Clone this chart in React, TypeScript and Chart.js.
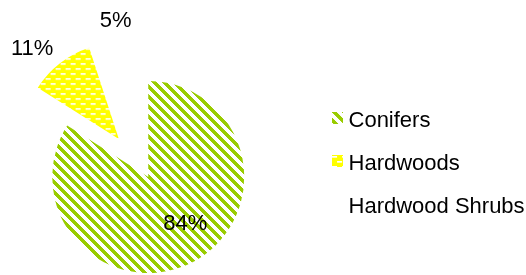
import React, { useEffect, useRef } from 'react';
import { Chart, registerables } from 'chart.js';

Chart.register(...registerables);

// ---- data ----
const CATEGORIES = ['Conifers', 'Hardwoods', 'Hardwood Shrubs'];
const VALUES = [84, 11, 5];

// ---- presentation ----
const EXPLODE = [0, 48, 0]; // px pulled out along slice bisector
const LABEL_ANGLE = [141.5, 316, 348.2]; // deg clockwise from 12 o'clock
const LABEL_RADIUS = [0.62, 1.3, 1.66]; // fraction of radius
const FONT_FAMILY = '"Liberation Sans", Arial, sans-serif';
const FONT_SIZE = 22;
const GREEN = '#99CC00';
const YELLOW = '#FFFF00';
const TILE = 10;
const STRIPE_WIDTH = 5;

function makeTile(kind: string): HTMLCanvasElement {
  const c = document.createElement('canvas');
  c.width = TILE;
  c.height = TILE;
  const g = c.getContext('2d')!;
  const h = TILE / 2;
  if (kind === 'stripe') {
    g.fillStyle = GREEN;
    for (let y = 0; y < TILE; y++) {
      for (let x = 0; x < TILE; x++) {
        if ((((x - y) % TILE) + TILE) % TILE < STRIPE_WIDTH) g.fillRect(x, y, 1, 1);
      }
    }
  } else if (kind === 'dash') {
    g.fillStyle = YELLOW;
    g.fillRect(0, 0, TILE, TILE);
    g.fillStyle = '#FFFFFF';
    g.fillRect(0, 1, h, 1);
    g.fillRect(h, 1 + h, h, 1);
    g.fillStyle = '#FFFFB0';
    g.fillRect(0, 2, h, 1);
    g.fillRect(h, 2 + h, h, 1);
  }
  return c;
}

function makeIcon(tile: HTMLCanvasElement | null): HTMLCanvasElement {
  const c = document.createElement('canvas');
  c.width = 11;
  c.height = 18;
  if (tile) {
    const g = c.getContext('2d')!;
    const p = g.createPattern(tile, 'repeat');
    if (p) {
      g.fillStyle = p;
      g.fillRect(0, 0, 11, 12);
    }
  }
  return c;
}

const explodePlugin = {
  id: 'explodeSlices',
  beforeDatasetDraw(chart: any, args: any) {
    const ctx = chart.ctx;
    args.meta.data.forEach((arc: any, i: number) => {
      const d = EXPLODE[i] || 0;
      const mid = (arc.startAngle + arc.endAngle) / 2;
      ctx.save();
      ctx.translate(Math.cos(mid) * d, Math.sin(mid) * d);
      arc.draw(ctx);
      ctx.restore();
    });
    return false;
  },
};

const labelPlugin = {
  id: 'pctLabels',
  afterDatasetsDraw(chart: any) {
    const meta = chart.getDatasetMeta(0);
    const ctx = chart.ctx;
    const total = VALUES.reduce((a, b) => a + b, 0);
    ctx.save();
    ctx.font = `${FONT_SIZE}px ${FONT_FAMILY}`;
    ctx.fillStyle = '#000000';
    ctx.textAlign = 'center';
    ctx.textBaseline = 'middle';
    meta.data.forEach((arc: any, i: number) => {
      const d = EXPLODE[i] || 0;
      const mid = (arc.startAngle + arc.endAngle) / 2;
      const cx = arc.x + Math.cos(mid) * d;
      const cy = arc.y + Math.sin(mid) * d;
      const phi = (LABEL_ANGLE[i] * Math.PI) / 180 - Math.PI / 2;
      const r = LABEL_RADIUS[i] * arc.outerRadius;
      ctx.fillText(Math.round((VALUES[i] / total) * 100) + '%', cx + Math.cos(phi) * r, cy + Math.sin(phi) * r);
    });
    ctx.restore();
  },
};

export default function App() {
  const ref = useRef<HTMLCanvasElement | null>(null);

  useEffect(() => {
    if (!ref.current) return;
    const stripeTile = makeTile('stripe');
    const dashTile = makeTile('dash');
    const ctx = ref.current.getContext('2d')!;
    const stripe = ctx.createPattern(stripeTile, 'repeat');
    const dash = ctx.createPattern(dashTile, 'repeat');
    const fills = [stripe, dash, 'rgba(0,0,0,0)'];
    const icons = [makeIcon(stripeTile), makeIcon(dashTile), makeIcon(null)];

    const chart = new Chart(ref.current, {
      type: 'pie',
      data: {
        labels: CATEGORIES,
        datasets: [
          {
            data: VALUES,
            backgroundColor: fills as any,
            hoverBackgroundColor: fills as any,
            borderWidth: 0,
            radius: 96,
            clip: false,
          } as any,
        ],
      },
      options: {
        responsive: false,
        devicePixelRatio: 1,
        animation: false,
        events: [],
        layout: { padding: { left: 0, right: 0, top: 89, bottom: 10 } },
        plugins: {
          tooltip: { enabled: false },
          legend: {
            display: true,
            position: 'right',
            align: 'start',
            maxWidth: 209.5,
            labels: {
              usePointStyle: true,
              boxWidth: 0.01,
              padding: 21,
              color: '#000000',
              font: { family: FONT_FAMILY, size: FONT_SIZE },
              generateLabels: () =>
                CATEGORIES.map((text, i) => ({
                  text,
                  fillStyle: 'rgba(0,0,0,0)',
                  strokeStyle: 'rgba(0,0,0,0)',
                  lineWidth: 0,
                  fontColor: '#000000',
                  pointStyle: icons[i] as any,
                  hidden: false,
                  index: i,
                })),
            },
          },
        },
      } as any,
      plugins: [explodePlugin, labelPlugin],
    });
    return () => chart.destroy();
  }, []);

  return (
    <canvas
      ref={ref}
      width={546}
      height={275}
      style={{ position: 'absolute', left: -20, top: 0, width: 546, height: 275 }}
    />
  );
}
